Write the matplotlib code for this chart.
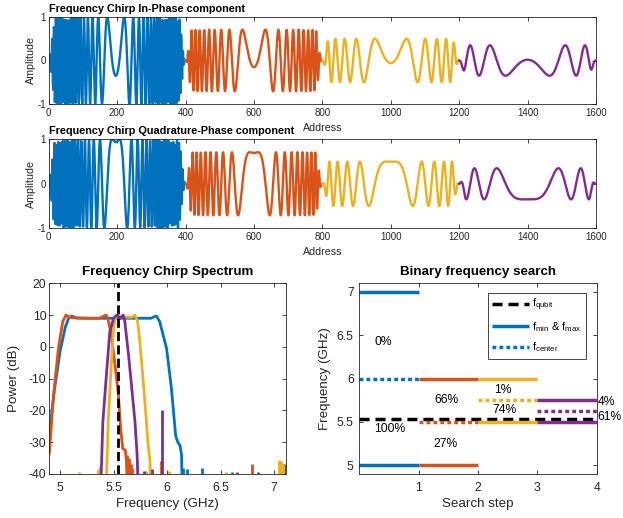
import numpy as np
import matplotlib
matplotlib.use('Agg')
import matplotlib.pyplot as plt

plt.rcParams['font.family'] = ['Liberation Sans', 'DejaVu Sans']
plt.rcParams['axes.unicode_minus'] = False
plt.rcParams['mathtext.fontset'] = 'custom'
plt.rcParams['mathtext.rm'] = 'Liberation Sans'
plt.rcParams['mathtext.it'] = 'Liberation Sans'

# ---------------- data ----------------
colors = ['#0072BD', '#D95319', '#EDB120', '#7E2F8E']

# chirp segments (address domain)
seg_start = [0, 400, 800, 1200]
seg_length = 400
seg_center = [196, 600, 1000, 1400]
seg_bandwidth_ghz = [2.0, 1.0, 0.5, 0.25]
seg_amplitude = [1.0, 0.71, 0.5, 0.35]
seg_center_phase = [np.pi / 2 + 0.36, np.pi / 2 + 0.22, np.pi / 2 + 0.12, -np.pi / 2 + 0.05]
sample_rate_gsps = 5.0
ramp_samples = 20

# spectrum curves (GHz, dB)
blue_f = [4.90, 4.95, 5.00, 5.05, 5.08, 5.11, 5.15, 5.30, 5.50, 5.70, 5.85, 5.88, 5.90, 5.93, 5.995, 6.04, 6.08, 6.10, 6.12, 6.135, 6.14, 7.12]
blue_db = [-27, -13, -1.5, 6.3, 9.0, 9.7, 9.1, 9.0, 9.0, 9.0, 9.0, 9.5, 9.7, 8.0, -0.5, -13, -28, -30, -31, -34, -45, -45]
orange_f = [4.90, 4.94, 4.985, 5.025, 5.055, 5.095, 5.20, 5.37, 5.41, 5.43, 5.45, 5.48, 5.51, 5.545, 5.566, 5.585, 5.61, 5.62, 5.63, 7.12]
orange_db = [-33.6, -15, -0.5, 7.9, 10, 9.2, 9.0, 9.0, 9.7, 10, 8.4, 3.7, -4.7, -15, -25.5, -32, -32.5, -36, -45, -45]
yellow_f = [4.90, 5.43, 5.45, 5.475, 5.50, 5.52, 5.60, 5.67, 5.70, 5.725, 5.745, 5.77, 5.795, 5.82, 5.84, 5.848, 7.12]
yellow_db = [-45, -45, -23.6, -8, 5.8, 9.5, 9.4, 9.3, 10, 8, 1.6, -8, -18.4, -30, -36, -45, -45]
purple_f = [4.90, 5.38, 5.40, 5.435, 5.465, 5.50, 5.53, 5.56, 5.59, 5.605, 5.64, 5.67, 5.70, 5.72, 5.73, 7.12]
purple_db = [-45, -45, -23.6, -8, 4.7, 9, 10, 9, 10, 8, -2.6, -13, -23.6, -34, -45, -45]

blue_spike_f = [6.15, 6.19, 6.33, 6.605, 6.85, 7.06, 7.08, 7.10]
blue_spike_db = [-38, -38.5, -38, -39.5, -39.5, -37, -37, -37]
orange_spike_f = [5.625, 5.645, 5.66, 5.675, 5.94, 6.79]
orange_spike_db = [-34, -35, -37, -38, -36, -37]
yellow_spike_f = [5.18, 5.355, 5.37, 5.80, 6.015, 6.55, 7.04, 7.06, 7.08]
yellow_spike_db = [-39.5, -38.5, -37.5, -39, -39, -39.5, -35.5, -36, -37]
purple_spike_f = [5.78, 5.86, 5.955, 6.65]
purple_spike_db = [-39, -38.5, -20, -39.5]

f_qubit = 5.54

# binary search
step_start = [0, 1, 2, 3]
f_min = [5.0, 5.0, 5.5, 5.5]
f_max = [7.0, 6.0, 6.0, 5.75]
f_center = [6.0, 5.5, 5.75, 5.625]
pct_x = [0.40, 0.52, 1.46, 1.46, 2.41, 2.44, 4.01, 4.01]
pct_y = [6.42, 5.42, 5.75, 5.25, 5.87, 5.635, 5.73, 5.56]
pct_text = ['0%', '100%', '66%', '27%', '1%', '74%', '4%', '61%']
pct_ha = ['center'] * 6 + ['left', 'left']

# ---------------- figure ----------------
W, H = 623, 518
fig = plt.figure(figsize=(W / 100, H / 100), dpi=100)


def px_axes(l, t, r, b):
    return fig.add_axes([l / W, 1 - b / H, (r - l) / W, (b - t) / H])


axc = '#262626'


def style(ax, fs, xpad, ypad):
    for s in ax.spines.values():
        s.set_linewidth(0.6)
        s.set_color(axc)
    ax.tick_params(direction='in', top=True, right=True, length=3, width=0.6,
                   colors=axc, labelsize=fs, labelcolor=axc)
    ax.tick_params(axis='x', pad=xpad)
    ax.tick_params(axis='y', pad=ypad)


def chirp_segment(i):
    n = np.arange(seg_start[i], seg_start[i] + seg_length)
    d = n - seg_center[i]
    k = np.pi * seg_bandwidth_ghz[i] / (seg_length * sample_rate_gsps)
    phi = seg_center_phase[i] - k * d ** 2
    env = np.ones(seg_length)
    r = np.arange(ramp_samples)
    ramp = 0.5 - 0.5 * np.cos(np.pi * r / ramp_samples)
    env[:ramp_samples] = ramp
    env[-ramp_samples:] = ramp[::-1]
    a = seg_amplitude[i] * env
    return n, a * np.cos(phi), a * np.sin(phi)


ax1 = px_axes(48.7, 17, 596, 104)
ax2 = px_axes(48.7, 139.3, 596, 228.3)
titles = ['Frequency Chirp In-Phase component', 'Frequency Chirp Quadrature-Phase component']
for j, ax in enumerate([ax1, ax2]):
    for i in range(4):
        n, I, Q = chirp_segment(i)
        ax.plot(n, I if j == 0 else Q, color=colors[i], lw=1.7)
    ax.set_xlim(0, 1600)
    ax.set_ylim(-1, 1)
    ax.set_xticks(np.arange(0, 1601, 200))
    ax.set_yticks([-1, 0, 1])
    style(ax, 7, 3, 2)
    ax.set_title(titles[j], loc='left', fontsize=7.8, fontweight='bold', pad=3.8)
    ax.set_xlabel('Address', fontsize=7.7, color=axc)
    ax.set_ylabel('Amplitude', fontsize=7.7, color=axc)
    ax.xaxis.set_label_coords(0.5, -0.215)
    ax.yaxis.set_label_coords(-0.024, 0.5)

# spectrum
ax3 = px_axes(49.3, 283.3, 286, 474)
curves = [(blue_f, blue_db), (orange_f, orange_db), (yellow_f, yellow_db), (purple_f, purple_db)]
spikes = [(blue_spike_f, blue_spike_db), (orange_spike_f, orange_spike_db),
          (yellow_spike_f, yellow_spike_db), (purple_spike_f, purple_spike_db)]
for i in range(4):
    ax3.plot(curves[i][0], curves[i][1], color=colors[i], lw=2)
    ax3.vlines(spikes[i][0], -45, spikes[i][1], color=colors[i], lw=2)
ax3.plot([f_qubit, f_qubit], [-40, 20], color='k', lw=2, linestyle=(0, (3.3, 1.5)))
ax3.set_xlim(4.9, 7.11)
ax3.set_ylim(-40, 20)
ax3.set_xticks([5, 5.5, 6, 6.5, 7])
ax3.set_xticklabels(['5', '5.5', '6', '6.5', '7'])
ax3.set_yticks(np.arange(-40, 21, 10))
style(ax3, 8.7, 6, 2)
ax3.set_title('Frequency Chirp Spectrum', fontsize=9.6, fontweight='bold', pad=6)
ax3.set_xlabel('Frequency (GHz)', fontsize=9.6, color=axc)
ax3.set_ylabel('Power (dB)', fontsize=9.6, color=axc)
ax3.xaxis.set_label_coords(0.5, -0.125)
ax3.yaxis.set_label_coords(-0.124, 0.5)

# binary search
ax4 = px_axes(359.3, 283.3, 596.7, 474)
lw_b = 2.5
dashed = (0, (2.9, 1.7))
dotted = (0, (1.1, 0.9))
hq, = ax4.plot([0, 4], [f_qubit, f_qubit], color='k', lw=lw_b, linestyle=dashed,
               label=r'f$_{\mathrm{qubit}}$')
for i in range(4):
    x0, x1 = step_start[i], step_start[i] + 1
    h1, = ax4.plot([x0, x1], [f_max[i], f_max[i]], color=colors[i], lw=lw_b, solid_capstyle='butt')
    ax4.plot([x0, x1], [f_min[i], f_min[i]], color=colors[i], lw=lw_b, solid_capstyle='butt')
    h2, = ax4.plot([x0, x1], [f_center[i], f_center[i]], color=colors[i], lw=lw_b,
                   linestyle=dotted, dash_capstyle='butt')
    if i == 0:
        hm, hc = h1, h2
for x, y, t, ha in zip(pct_x, pct_y, pct_text, pct_ha):
    ax4.text(x, y, t, ha=ha, va='center', fontsize=8.7, color='k', clip_on=False)
ax4.set_xlim(0, 4)
ax4.set_ylim(4.9, 7.1)
ax4.set_xticks([1, 2, 3, 4])
ax4.set_yticks([5, 5.5, 6, 6.5, 7])
ax4.set_yticklabels(['5', '5.5', '6', '6.5', '7'])
style(ax4, 8.7, 6, 4)
ax4.set_title('Binary frequency search', fontsize=9.6, fontweight='bold', pad=6)
ax4.set_xlabel('Search step', fontsize=9.6, color=axc)
ax4.set_ylabel('Frequency (GHz)', fontsize=9.6, color=axc)
ax4.xaxis.set_label_coords(0.5, -0.125)
ax4.yaxis.set_label_coords(-0.12, 0.5)
leg = ax4.legend([hq, hm, hc],
                 [r'f$_{\mathrm{qubit}}$', r'f$_{\mathrm{min}}$ & f$_{\mathrm{max}}$', r'f$_{\mathrm{center}}$'],
                 loc='upper right', bbox_to_anchor=(0.955, 0.951), borderaxespad=0,
                 fontsize=8, handlelength=3.3, handletextpad=0.3, labelspacing=0.6,
                 borderpad=0.4, fancybox=False, framealpha=1, edgecolor=axc)
leg.get_frame().set_linewidth(0.6)

fig.savefig('out.png', dpi=100)
